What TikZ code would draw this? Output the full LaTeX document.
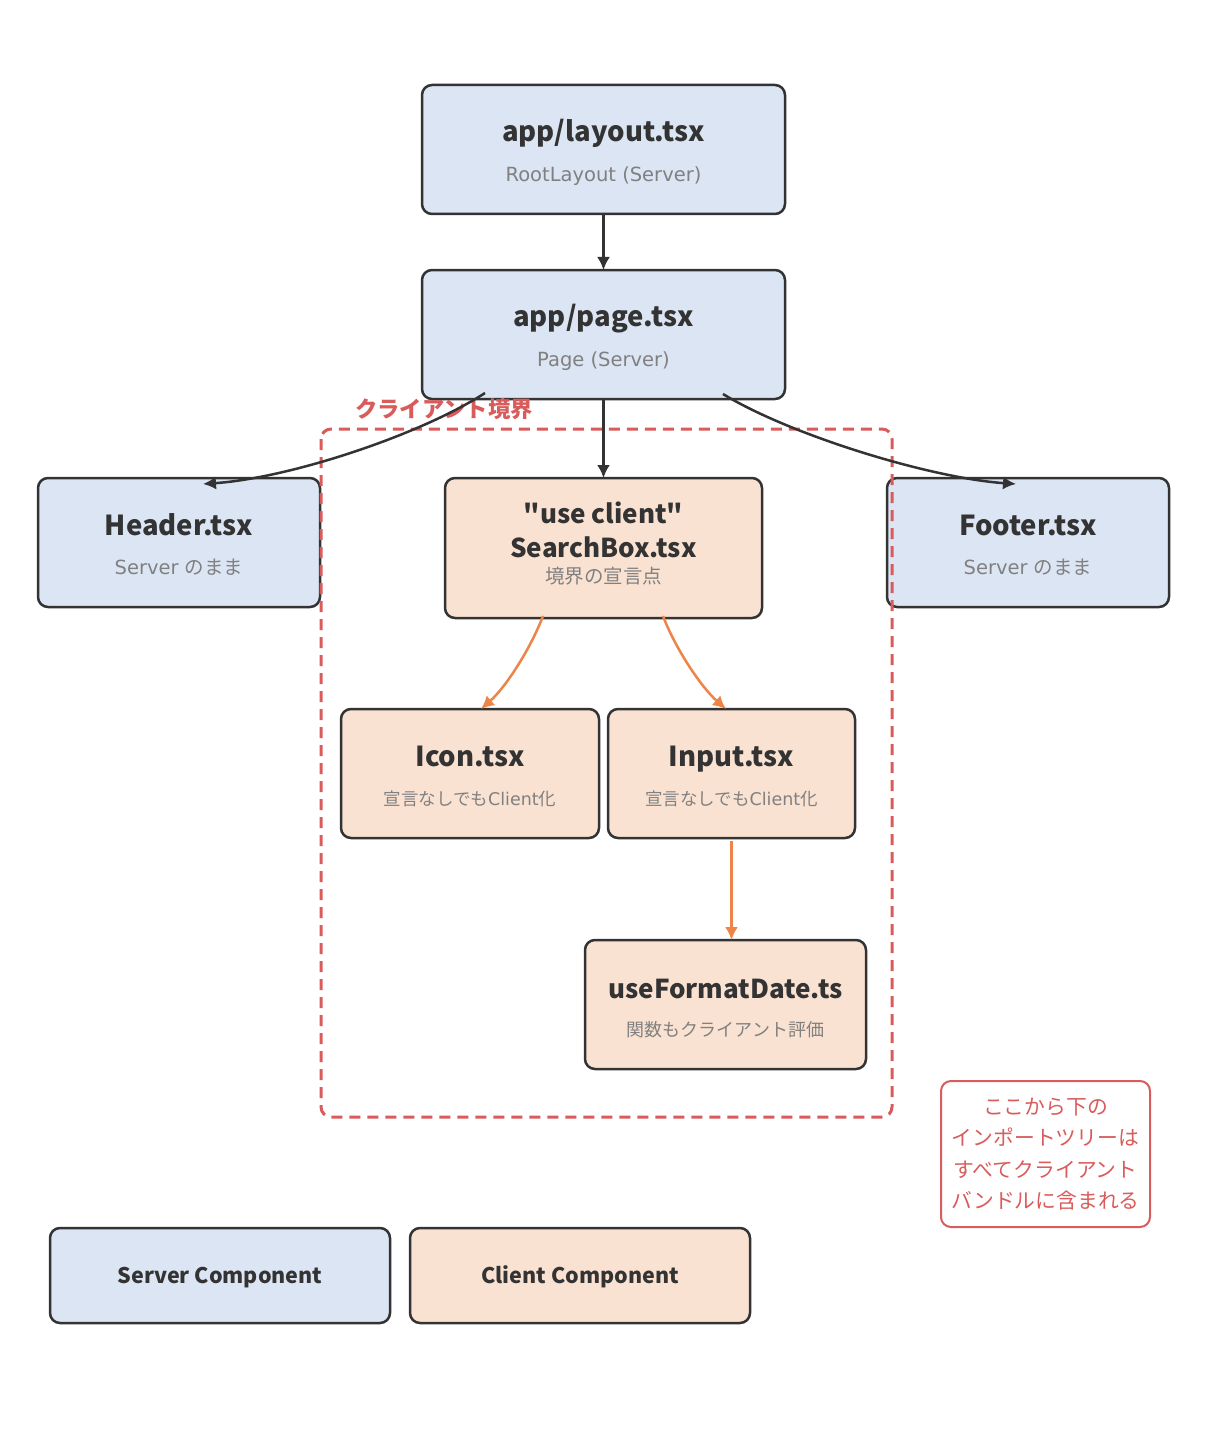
\documentclass[tikz,border=0pt]{standalone}
\usepackage{fontspec}
\setmainfont{Noto Sans CJK JP}[Ligatures=TeXOff]
\newfontfamily\latinf{DejaVu Sans}
\usetikzlibrary{arrows.meta}
\definecolor{srvfill}{HTML}{DCE5F3}
\definecolor{clifill}{HTML}{FAE2D2}
\definecolor{boxline}{HTML}{333333}
\definecolor{titlecol}{HTML}{333333}
\definecolor{subcol}{HTML}{808080}
\definecolor{orangec}{HTML}{EE8548}
\definecolor{redc}{HTML}{D95C5C}
\tikzset{
 box/.style={draw=boxline, line width=2.5pt, rounded corners=10pt, inner sep=0pt, outer sep=0pt},
 srv/.style={box, fill=srvfill},
 cli/.style={box, fill=clifill},
 ttl/.style={text=titlecol, font=\fontsize{27.5}{30}\selectfont\bfseries, inner sep=0pt, anchor=mid},
 sub/.style={text=subcol, font=\fontsize{19.5}{24}\selectfont, inner sep=0pt, anchor=mid},
 subs/.style={sub, font=\fontsize{17.5}{22}\selectfont},
 leg/.style={text=titlecol, font=\fontsize{21.5}{26}\selectfont\bfseries, inner sep=0pt, anchor=mid},
 darr/.style={draw=boxline, line width=2.5pt, -{Latex[length=13pt,width=13pt]}},
 oarr/.style={draw=orangec, line width=2.5pt, -{Latex[length=13pt,width=13pt]}},
}
\begin{document}
\begin{tikzpicture}[x=1pt,y=-1pt]
\useasboundingbox[fill=white] (0,0) rectangle (1207,1431);
% boxes
\node[srv, minimum width=363pt, minimum height=129pt] (layout) at (603.5,149.5) {};
\node[ttl] (layoutT) at (603.5,139) {app/layout.tsx};
\node[sub] (layoutS) at (603.5,179) {{\latinf RootLayout (Server)}};

\node[srv, minimum width=363pt, minimum height=129pt] (page) at (603.5,334.5) {};
\node[ttl] (pageT) at (603.5,324) {app/page.tsx};
\node[sub] (pageS) at (603.5,364) {{\latinf Page (Server)}};

\node[srv, minimum width=282pt, minimum height=129pt] (header) at (179,542.5) {};
\node[ttl] (headerT) at (179,533) {Header.tsx};
\node[sub] (headerS) at (179,572) {{\latinf Server\ }のまま};

\node[srv, minimum width=282pt, minimum height=129pt] (footer) at (1028,542.5) {};
\node[ttl] (footerT) at (1028,533) {Footer.tsx};
\node[sub] (footerS) at (1028,572) {{\latinf Server\ }のまま};

\node[cli, minimum width=317pt, minimum height=140pt] (search) at (603.5,548) {};
\node[ttl, font=\fontsize{26}{30}\selectfont\bfseries] (searchT1) at (603.5,521) {"use client"};
\node[ttl, font=\fontsize{26}{30}\selectfont\bfseries] (searchT2) at (603.5,555) {SearchBox.tsx};
\node[sub] (searchS) at (603.5,581) {境界の宣言点};

\node[cli, minimum width=258pt, minimum height=129pt] (icon) at (470,773.5) {};
\node[ttl] (iconT) at (470,764) {Icon.tsx};
\node[subs] (iconS) at (470,803) {宣言なしでも{\latinf Client}化};

\node[cli, minimum width=247pt, minimum height=129pt] (input) at (731.5,773.5) {};
\node[ttl] (inputT) at (731.5,764) {Input.tsx};
\node[subs] (inputS) at (731.5,803) {宣言なしでも{\latinf Client}化};

\node[cli, minimum width=281pt, minimum height=129pt] (fmt) at (725.5,1004.5) {};
\node[ttl, font=\fontsize{26}{30}\selectfont\bfseries] (fmtT) at (725.5,996) {useFormatDate.ts};
\node[sub, font=\fontsize{18}{22}\selectfont] (fmtS) at (725.5,1034) {関数もクライアント評価};

% legend
\node[srv, minimum width=340pt, minimum height=95pt] (legS) at (220,1275.5) {};
\node[leg] (legST) at (220,1281) {Server Component};
\node[cli, minimum width=340pt, minimum height=95pt] (legC) at (580,1275.5) {};
\node[leg] (legCT) at (580,1281) {Client Component};

% note
\node[draw=redc, line width=2pt, rounded corners=10pt, fill=white, minimum width=209pt, minimum height=146pt, inner sep=0pt] (note) at (1045.5,1154) {};
\node[text=redc, align=center, font=\fontsize{20.8}{31.5}\selectfont, inner sep=0pt] (noteT) at (1045.5,1154) {ここから下の\\インポートツリーは\\すべてクライアント\\バンドルに含まれる};

% client boundary
\draw[draw=redc, line width=3pt, dash pattern=on 11pt off 7pt, rounded corners=10pt] (321,429) rectangle (892,1117);
\node[text=redc, font=\fontsize{22.3}{26}\selectfont\bfseries, anchor=mid west, inner sep=0pt] (bndT) at (355,415) {クライアント境界};

% connectors
\draw[darr] (layout.south) -- (page.north);
\draw[darr] (page.south) -- (search.north);
\draw[darr] ([shift={(-118.5,-6)}]page.south) .. controls (420,435) and (290,478) .. ([shift={(24,6)}]header.north);
\draw[darr] ([shift={(119.5,-5)}]page.south) .. controls (790,435) and (930,478) .. ([shift={(-12,6)}]footer.north);
\draw[oarr] ([shift={(-60.5,-2)}]search.south) .. controls (530,650) and (505,688) .. ([xshift=11]icon.north);
\draw[oarr] ([shift={(59.5,-2)}]search.south) .. controls (676,650) and (702,688) .. ([xshift=-5.5]input.north);
\draw[oarr] ([yshift=-3]input.south) -- (fmt.north -| input.south);
\end{tikzpicture}
\end{document}
